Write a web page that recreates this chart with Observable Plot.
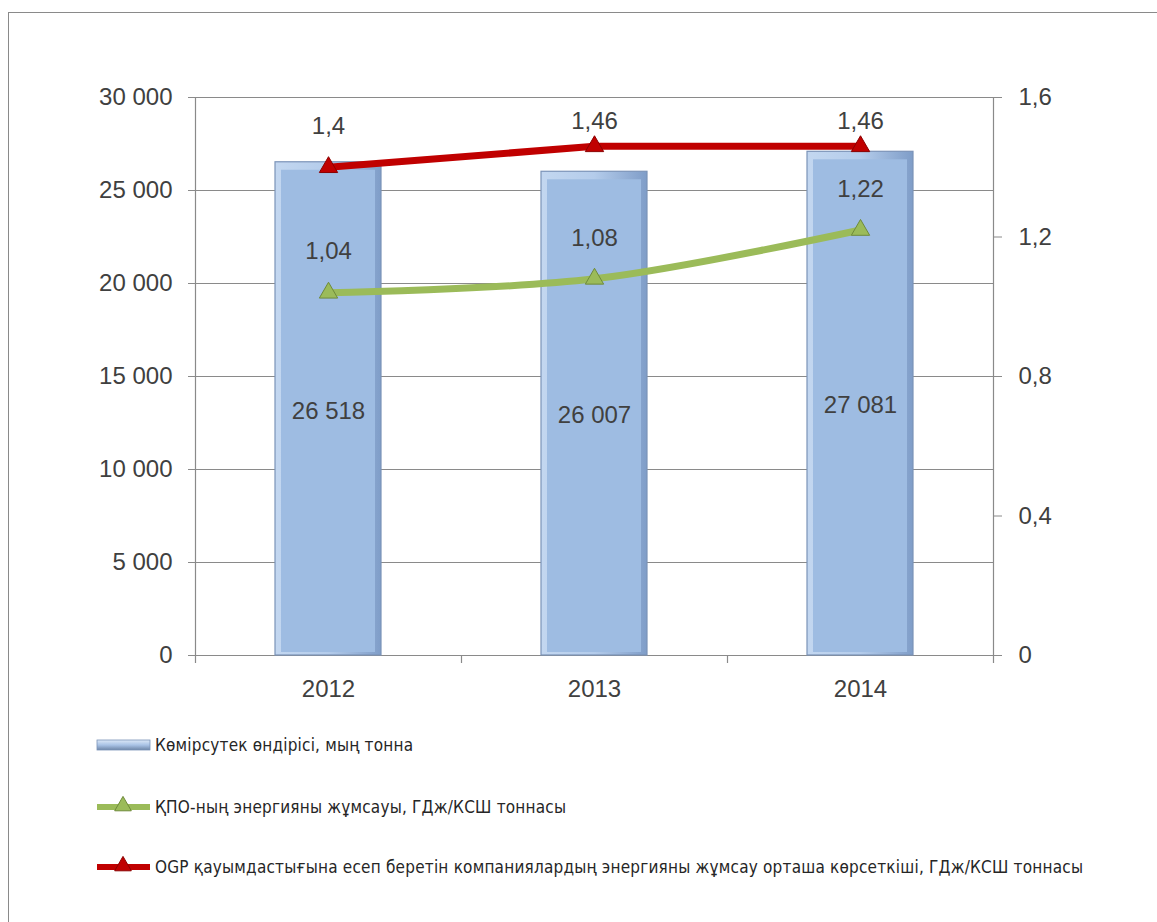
<!DOCTYPE html>
<html>
<head>
<meta charset="utf-8">
<script src="https://cdn.jsdelivr.net/npm/d3@7"></script>
<script src="https://cdn.jsdelivr.net/npm/@observablehq/plot@0.6"></script>
<style>
  html, body { margin: 0; padding: 0; background: #fff; }
  #wrap { position: relative; width: 1157px; height: 922px; overflow: hidden; font-family: "Liberation Sans", Arial, sans-serif; }
  #frame { position: absolute; left: 8px; top: 12px; width: 1300px; height: 1000px; border-left: 1.5px solid #8a8a8a; border-top: 1.5px solid #8a8a8a; }
  #chart svg, #legend svg { display: block; }
  #chart, #legend { position: relative; }
</style>
</head>
<body>
<div id="wrap">
  <div id="frame"></div>
  <div id="chart"></div>
  <div id="legend"></div>
</div>
<script>
// ---- data ----
const years = ["2012", "2013", "2014"];
const production = [26518, 26007, 27081];          // мың тонна (left axis)
const kpoEnergy = [1.04, 1.08, 1.22];               // right axis
const ogpEnergy = [1.4, 1.46, 1.46];                // right axis
const leftTicks = [0, 5000, 10000, 15000, 20000, 25000, 30000];
const rightTicks = [0, 0.4, 0.8, 1.2, 1.6];
const legendLabels = [
  "Көмірсутек өндірісі, мың тонна",
  "ҚПО-ның энергияны жұмсауы, ГДж/КСШ тоннасы",
  "OGP қауымдастығына  есеп беретін компаниялардың энергияны жұмсау орташа көрсеткіші, ГДж/КСШ  тоннасы"
];

// ---- helpers ----
const locale = d3.formatLocale({decimal: ",", thousands: " ", grouping: [3], currency: ["", ""]});
const fmtInt = locale.format(",d");
const fmtDec = v => String(+v.toFixed(2)).replace(".", ",");
const leftMax = 30000, rightMax = 1.6, k = leftMax / rightMax;

const barData = years.map((y, i) => ({year: y, value: production[i]}));
const kpoData = years.map((y, i) => ({year: y, value: kpoEnergy[i]}));
const ogpData = years.map((y, i) => ({year: y, value: ogpEnergy[i]}));

const W = 1157, H = 720, mL = 195, mR = 164, mT = 97, mB = 65;
const step = (W - mL - mR) / years.length;
const pxToData = leftMax / (H - mT - mB);
// data-label placement: above the point, kept inside the plot area (like Excel)
const labelY = d => Math.min(d.value * k + 41 * pxToData, leftMax - 24 * pxToData);
const textColor = "#404040";
const axisColor = "#8a8a8a";
const red = "#C00000", green = "#9BBB59";

const plot = Plot.plot({
  width: W, height: H,
  marginLeft: mL, marginRight: mR, marginTop: mT, marginBottom: mB,
  style: {fontFamily: "'Liberation Sans', Arial, sans-serif", color: textColor, background: "transparent", overflow: "visible"},
  x: {type: "band", domain: years, paddingInner: 0.6, paddingOuter: 0.3, axis: null},
  y: {domain: [0, leftMax], axis: null},
  marks: [
    Plot.ruleY(leftTicks, {stroke: axisColor, strokeWidth: 1.2}),
    Plot.axisY({ticks: leftTicks, tickSize: 7, tickPadding: 16, tickFormat: fmtInt, fontSize: 24, stroke: axisColor, fill: textColor, strokeOpacity: 1, label: null}),
    Plot.axisY({anchor: "right", ticks: rightTicks.map(v => v * k), tickSize: 8, tickPadding: 17, tickFormat: v => fmtDec(v / k), fontSize: 24, stroke: axisColor, fill: textColor, strokeOpacity: 1, label: null}),
    Plot.axisX({tickSize: 0, tickPadding: 24, fontSize: 24, fill: textColor, label: null}),
    // axis lines
    Plot.ruleX([years[0]], {x: d => d, dx: -step / 2, insetBottom: -8, stroke: axisColor, strokeWidth: 1.2}),
    Plot.ruleX([years[years.length - 1]], {x: d => d, dx: step / 2, insetBottom: -8, stroke: axisColor, strokeWidth: 1.2}),
    Plot.ruleX(years.slice(1), {x: d => d, dx: -step / 2, y1: 0, y2: 0, insetBottom: -8, stroke: axisColor, strokeWidth: 1.2}),
    // bars with bevel
    Plot.barY(barData, {x: "year", y: "value", fill: "url(#bevelGrad)", stroke: "#7B93B8", strokeWidth: 1.2}),
    Plot.barY(barData, {x: "year", y: "value", fill: "#9EBCE2", insetTop: 8, insetLeft: 6, insetRight: 6, insetBottom: 3}),
    Plot.text(barData, {x: "year", y: d => d.value / 2, text: d => fmtInt(d.value), dy: 2, fontSize: 24, fill: textColor}),
    // lines (right axis)
    Plot.lineY(ogpData, {x: "year", y: d => d.value * k, stroke: red, strokeWidth: 7, curve: "linear"}),
    Plot.lineY(kpoData, {x: "year", y: d => d.value * k, stroke: green, strokeWidth: 7, curve: "catmull-rom"}),
    Plot.dot(ogpData, {x: "year", y: d => d.value * k, symbol: "triangle", r: 6.8, fill: red, stroke: "#8B0000", strokeWidth: 1}),
    Plot.dot(kpoData, {x: "year", y: d => d.value * k, symbol: "triangle", r: 6.8, fill: green, stroke: "#6E8A3A", strokeWidth: 1}),
    Plot.text(ogpData, {x: "year", y: labelY, text: d => fmtDec(d.value), fontSize: 24, fill: textColor}),
    Plot.text(kpoData, {x: "year", y: labelY, text: d => fmtDec(d.value), fontSize: 24, fill: textColor})
  ]
});

// gradient for bar bevel
const svgNS = "http://www.w3.org/2000/svg";
const defs = document.createElementNS(svgNS, "defs");
defs.innerHTML = `
  <linearGradient id="bevelGrad" x1="0" y1="0" x2="1" y2="0">
    <stop offset="0" stop-color="#C3D7F0"/>
    <stop offset="0.5" stop-color="#B4CCEB"/>
    <stop offset="1" stop-color="#7F9DC8"/>
  </linearGradient>
  <linearGradient id="legBar" x1="0" y1="0" x2="0" y2="1">
    <stop offset="0" stop-color="#DCE8F7"/>
    <stop offset="0.5" stop-color="#A9C3E6"/>
    <stop offset="1" stop-color="#6E86A8"/>
  </linearGradient>`;
plot.insertBefore(defs, plot.firstChild);
document.getElementById("chart").appendChild(plot);

// ---- legend ----
const LH = 922 - H;
const leg = d3.select("#legend").append("svg").attr("width", W).attr("height", LH)
  .style("font-family", "'Liberation Sans Narrow', 'DejaVu Sans Condensed', 'Liberation Sans', sans-serif");
leg.append(() => defs.cloneNode(true));
const legRows = [25, 87, 147];
const legWidths = [258, 411, 928];
const legKinds = [{type: "bar"}, {type: "line", color: green, dark: "#6E8A3A"}, {type: "line", color: red, dark: "#8B0000"}];
legendLabels.forEach((label, i) => {
  const g = leg.append("g").attr("transform", `translate(0,${legRows[i]})`);
  const kind = legKinds[i];
  if (kind.type === "bar") {
    g.append("rect").attr("x", 97).attr("y", -5).attr("width", 53).attr("height", 10)
      .attr("fill", "url(#legBar)").attr("stroke", "#7B93B8").attr("stroke-width", 0.8);
  } else {
    g.append("line").attr("x1", 97).attr("x2", 150).attr("y1", 0).attr("y2", 0)
      .attr("stroke", kind.color).attr("stroke-width", 6);
    g.append("path").attr("d", d3.symbol(d3.symbolTriangle, 120)()).attr("transform", "translate(123,-1)")
      .attr("fill", kind.color).attr("stroke", kind.dark).attr("stroke-width", 1);
  }
  g.append("text").attr("x", 155).attr("y", 0).attr("dy", "0.35em")
    .attr("font-size", 17).attr("fill", "#262626")
    .attr("textLength", legWidths[i]).attr("lengthAdjust", "spacing")
    .text(label);
});
</script>
</body>
</html>
